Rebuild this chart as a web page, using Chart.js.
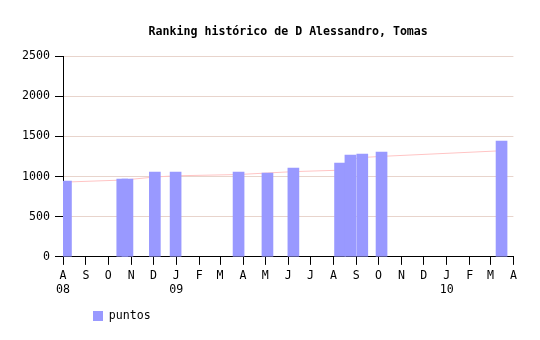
<!DOCTYPE html>
<html>
<head>
<meta charset="utf-8">
<script src="https://cdn.jsdelivr.net/npm/chart.js@4.4.1/dist/chart.umd.min.js"></script>
<style>
  html, body { margin: 0; padding: 0; background: #fff; }
  #wrap { width: 540px; height: 340px; }
</style>
</head>
<body>
<div id="wrap"><canvas id="rankingChart" width="540" height="340"></canvas></div>
<script>
const startDate = '2008-08-01';
const endDate = '2010-04-01';

// fechas de cada barra y puntos
const barDates = ['2008-08-05', '2008-10-20', '2008-10-27', '2008-12-03', '2008-12-31', '2009-03-26',
    '2009-05-04', '2009-06-08', '2009-08-10', '2009-08-24', '2009-09-09', '2009-10-05', '2010-03-16'];
const puntos = [944, 969, 969, 1056, 1056, 1056, 1044, 1106, 1169, 1269, 1281, 1306, 1444];
const tendencia = [932, 957, 962, 995, 1010, 1026, 1045, 1062, 1080, 1215, 1238, 1252, 1322];

// eje x: un tick por mes
const tickDates = ['2008-08-01', '2008-09-01', '2008-10-01', '2008-11-01', '2008-12-01', '2009-01-01',
    '2009-02-01', '2009-03-01', '2009-04-01', '2009-05-01', '2009-06-01', '2009-07-01', '2009-08-01',
    '2009-09-01', '2009-10-01', '2009-11-01', '2009-12-01', '2010-01-01', '2010-02-01', '2010-03-01', '2010-04-01'];
const monthLetters = ['A', 'S', 'O', 'N', 'D', 'J', 'F', 'M', 'A', 'M', 'J', 'J', 'A', 'S', 'O', 'N', 'D', 'J', 'F', 'M', 'A'];
const yearLabels = ['08', '', '', '', '', '09', '', '', '', '', '', '', '', '', '', '', '', '10', '', '', ''];

const yTicks = [0, 500, 1000, 1500, 2000, 2500];

function dayOf(d) {
    return (Date.parse(d) - Date.parse(startDate)) / 86400000;
}

// mueve la leyenda a su sitio (abajo a la izquierda)
const legendPlacer = {
    id: 'legendPlacer',
    afterLayout: function(chart) {
        const lg = chart.legend;
        if (!lg) return;
        const dx = 83 - lg.left;
        const dy = 300.2 - lg.top;
        lg.left += dx; lg.right += dx;
        lg.top += dy; lg.bottom += dy;
    }
};

Chart.defaults.font.family = '"DejaVu Sans Mono", monospace';
Chart.defaults.font.size = 11.6;
Chart.defaults.color = '#000';

new Chart(document.getElementById('rankingChart').getContext('2d'), {
    type: 'bar',
    data: {
        datasets: [
            {
                type: 'bar',
                label: 'puntos',
                data: puntos.map(function(v, i) { return { x: dayOf(barDates[i]), y: v }; }),
                backgroundColor: '#9999ff',
                borderWidth: 0,
                barThickness: 11,
                grouped: false,
                order: 1
            },
            {
                type: 'line',
                label: 'tendencia',
                data: tendencia.map(function(v, i) { return { x: dayOf(barDates[i]), y: v }; }),
                borderColor: '#ffc4c4',
                borderWidth: 1,
                pointRadius: 0,
                tension: 0,
                fill: false,
                order: 2
            }
        ]
    },
    options: {
        responsive: false,
        animation: false,
        devicePixelRatio: 1,
        layout: { padding: { left: 0, right: 26.6, top: 0, bottom: 6.7 } },
        plugins: {
            title: {
                display: true,
                text: 'Ranking histórico de D Alessandro, Tomas',
                fullSize: false,
                font: { weight: 'bold' },
                padding: { top: 25, bottom: 17.3 }
            },
            legend: {
                position: 'bottom',
                align: 'start',
                labels: {
                    boxWidth: 10,
                    boxHeight: 10,
                    padding: 10,
                    filter: function(item) { return item.datasetIndex === 0; }
                }
            },
            tooltip: { enabled: false }
        },
        scales: {
            x: {
                type: 'linear',
                min: 0,
                max: dayOf(endDate),
                offset: false,
                grid: { drawOnChartArea: false, offset: false, tickLength: 8, tickColor: '#000' },
                border: { color: '#000' },
                afterBuildTicks: function(scale) {
                    scale.ticks = tickDates.map(function(d) { return { value: dayOf(d) }; });
                },
                ticks: {
                    autoSkip: false,
                    maxRotation: 0,
                    padding: 4.5,
                    callback: function(value, index) {
                        return yearLabels[index] ? [monthLetters[index], yearLabels[index]] : monthLetters[index];
                    }
                }
            },
            y: {
                min: 0,
                max: 2500,
                afterBuildTicks: function(scale) {
                    scale.ticks = yTicks.map(function(v) { return { value: v }; });
                },
                afterFit: function(scale) { scale.width = 63; },
                grid: { color: '#e8d4cc', tickColor: '#000', tickLength: 8 },
                border: { color: '#000' },
                ticks: {
                    padding: 5,
                    callback: function(value) { return String(value); }
                }
            }
        }
    },
    plugins: [legendPlacer]
});
</script>
</body>
</html>
